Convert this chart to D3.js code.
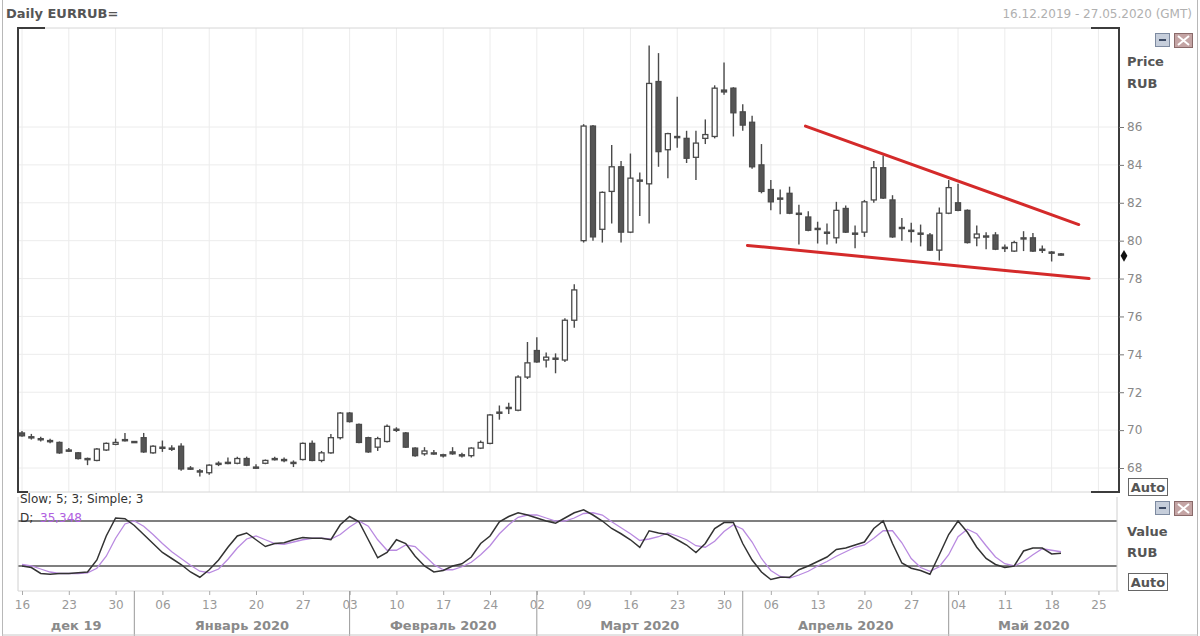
<!DOCTYPE html>
<html><head><meta charset="utf-8">
<script src="https://cdn.jsdelivr.net/npm/d3@7/dist/d3.min.js"></script>
<style>
html,body{margin:0;padding:0;background:#fff;}
svg{display:block;font-family:"DejaVu Sans",Verdana,sans-serif;}
</style></head>
<body><svg id="c" width="1200" height="636"></svg>
<script>
// ---- data ----
const openV = [69.85,69.65,69.55,69.45,69.35,68.95,68.80,68.50,68.40,68.95,69.25,69.45,69.40,69.60,68.80,69.10,69.05,69.15,68.00,67.85,67.75,68.20,68.30,68.25,68.50,68.05,68.25,68.50,68.45,68.30,68.45,69.30,68.40,68.80,69.60,70.90,70.30,69.60,69.10,69.40,70.05,69.85,69.05,68.75,68.80,68.70,68.85,68.70,68.65,69.05,69.30,70.90,71.15,71.05,72.80,74.20,73.70,73.80,73.70,75.80,80.00,86.05,80.60,82.60,83.90,80.45,83.20,83.00,88.40,84.80,85.45,85.40,84.40,85.40,85.50,87.95,88.05,86.80,86.25,84.00,82.70,82.25,82.50,81.45,81.25,80.65,80.45,80.15,81.70,80.40,80.45,82.15,83.85,82.15,80.70,80.55,80.40,80.30,79.50,81.45,82.00,81.60,80.15,80.25,80.30,79.65,79.45,80.15,80.15,79.55,79.40,79.30];
const highV = [69.95,69.80,69.65,69.55,69.40,69.05,68.85,68.55,69.05,69.35,69.55,69.85,69.42,69.85,69.20,69.45,69.20,69.30,68.10,67.95,68.20,68.35,68.55,68.60,68.60,68.20,68.45,68.60,68.55,68.40,69.35,69.45,68.90,69.80,70.95,70.95,70.35,69.65,69.65,70.30,70.15,69.90,69.10,69.10,68.95,68.75,69.10,68.80,69.10,69.45,70.85,71.30,71.45,72.90,74.65,74.90,74.10,74.05,75.90,77.70,86.15,86.10,82.60,85.05,84.20,84.60,83.60,90.30,89.90,85.70,87.60,85.80,85.80,86.40,88.20,89.40,88.10,87.20,86.60,85.10,83.20,82.70,82.85,81.90,81.55,81.00,80.90,82.05,81.85,80.80,82.15,84.20,84.50,82.40,81.20,80.95,80.85,80.40,81.75,83.20,83.00,81.65,80.80,80.45,80.45,79.80,80.00,80.50,80.40,79.75,79.45,79.35];
const lowV = [69.65,69.50,69.40,69.30,68.75,68.85,68.45,68.15,68.35,68.90,69.20,69.40,69.38,68.80,68.75,68.85,68.90,67.85,67.90,67.55,67.65,68.10,68.20,68.20,68.10,67.95,68.20,68.40,68.30,68.05,68.40,68.35,68.30,68.75,69.50,70.40,69.30,68.80,68.90,69.35,69.90,69.05,68.60,68.65,68.70,68.55,68.70,68.55,68.55,69.00,69.25,70.55,70.85,71.00,72.70,73.55,73.30,73.00,73.60,75.40,79.90,80.00,79.90,80.90,79.90,80.40,81.30,80.90,83.90,83.30,84.90,84.10,83.20,85.10,85.40,87.70,85.50,85.80,83.80,82.50,81.60,81.40,81.40,79.80,80.50,79.85,79.80,79.85,80.40,79.60,80.20,82.00,82.20,80.15,80.00,79.90,79.70,79.45,78.95,81.40,81.55,79.85,79.70,79.55,79.50,79.40,79.40,79.45,79.40,79.35,78.90,79.20];
const closeV = [69.70,69.60,69.50,69.40,68.80,68.90,68.50,68.48,69.00,69.30,69.35,69.50,69.40,68.85,69.15,69.10,69.05,67.95,67.95,67.80,68.15,68.25,68.30,68.50,68.15,68.05,68.40,68.50,68.40,68.30,69.30,68.40,68.80,69.60,70.90,70.45,69.35,68.85,69.55,70.20,70.05,69.10,68.65,68.90,68.80,68.70,68.75,68.70,69.05,69.35,70.80,70.95,71.20,72.80,73.55,73.60,73.85,73.80,75.80,77.40,86.05,80.20,82.55,83.90,80.45,83.30,83.20,88.30,84.70,85.65,85.50,84.35,85.15,85.60,88.05,87.85,86.75,86.10,83.90,82.60,82.05,82.20,81.45,81.40,80.55,80.60,80.40,81.60,80.45,80.35,82.05,83.85,82.25,80.20,80.65,80.50,80.35,79.50,81.45,82.80,81.60,79.90,80.35,80.25,79.55,79.65,79.90,80.15,79.45,79.50,79.38,79.25];
const stochK = [20,18,10,9,10,10,11,12,28,60,84,83,74,62,50,38,30,22,12,5,15,28,45,60,64,55,46,50,51,55,58,57,57,55,75,86,79,55,31,38,55,50,33,20,12,14,20,23,32,50,60,79,86,91,88,84,80,77,84,91,95,88,80,70,63,55,45,67,64,62,55,48,38,50,70,78,78,50,28,12,2,5,5,15,20,26,32,42,44,48,52,70,80,50,24,17,14,9,35,62,80,65,45,30,22,18,20,40,44,44,36,37];
const stochD = [22,20,16,12,10,10,10,11,17,33,57,76,80,73,62,50,39,30,21,13,11,16,29,44,56,60,55,50,49,52,55,57,57,56,62,72,80,73,55,41,41,48,46,34,22,15,15,19,25,35,47,63,75,85,88,88,84,80,80,84,90,91,88,79,71,63,54,56,59,64,60,55,47,45,53,66,75,69,52,30,14,6,4,8,13,20,26,33,39,45,48,57,67,67,51,30,18,13,19,35,59,69,63,47,32,23,20,26,35,43,41,39];
const priceTicks = [68,70,72,74,76,78,80,82,84,86];
const weekLabels = ["16","23","30","06","13","20","27","03","10","17","24","02","09","16","23","30","06","13","20","27","04","11","18","25"];
const monthLabels = ["дек 19","Январь 2020","Февраль 2020","Март 2020","Апрель 2020","Май 2020"];
const monthStartIdx = [0,12,35,55,77,99];
const upperTrend = [{i:83.7,v:86.05},{i:112.9,v:80.85}];
const lowerTrend = [{i:77.5,v:79.75},{i:114.0,v:78.0}];
const stochLevels = [80,20];
const lastPrice = 79.2;
const titleText = "Daily EURRUB=";
const rangeText = "16.12.2019 - 27.05.2020 (GMT)";
const stochLegend = "Slow; 5; 3; Simple; 3";
const stochValPrefix = "D;";
const stochValue = "35,348";

// ---- layout ----
const svg = d3.select("#c");
const L = 18, R = 1119, mainTop = 28, mainBot = 492, stTop = 497, stBot = 591;
const x = d3.scaleLinear().domain([0,111]).range([22,1061]);
const y = d3.scaleLinear().domain([68,86]).range([468,127]);
const ys = d3.scaleLinear().domain([20,80]).range([566,521]);
const candles = openV.map((o,i)=>({i,o,h:highV[i],l:lowV[i],c:closeV[i]}));
const bw = 5;

// outer frame
svg.append("line").attr("x1",2.5).attr("x2",2.5).attr("y1",0).attr("y2",636).attr("stroke","#b8b8b8");
svg.append("line").attr("x1",1197.5).attr("x2",1197.5).attr("y1",0).attr("y2",636).attr("stroke","#b8b8b8");

// title
svg.append("text").attr("x",6).attr("y",18).attr("font-size",13).attr("font-weight","bold").attr("fill","#555").text(titleText);
svg.append("text").attr("x",1192).attr("y",18).attr("text-anchor","end").attr("font-size",12).attr("fill","#b0b0b0").text(rangeText);

// clip
const defs = svg.append("defs");
defs.append("clipPath").attr("id","mainClip").append("rect").attr("x",L).attr("y",mainTop).attr("width",R-L).attr("height",mainBot-mainTop);
defs.append("clipPath").attr("id","stClip").append("rect").attr("x",L).attr("y",stTop).attr("width",R-L).attr("height",stBot-stTop);

// grid main
const weekIdx = weekLabels.map((d,k)=>k*5);
const gMain = svg.append("g").attr("clip-path","url(#mainClip)");
gMain.selectAll(".vg").data(weekIdx).join("line").attr("x1",d=>x(d)).attr("x2",d=>x(d)).attr("y1",mainTop).attr("y2",mainBot).attr("stroke","#ececec");
gMain.selectAll(".hg").data(priceTicks).join("line").attr("x1",L).attr("x2",R).attr("y1",d=>y(d)).attr("y2",d=>y(d)).attr("stroke","#ececec");

// candles
const cg = gMain.selectAll(".cd").data(candles).join("g");
cg.append("line").attr("x1",d=>x(d.i)).attr("x2",d=>x(d.i)).attr("y1",d=>y(d.h)).attr("y2",d=>y(d.l)).attr("stroke","#4a4a4a").attr("stroke-width",1.4);
cg.append("rect").attr("x",d=>x(d.i)-bw/2).attr("width",bw)
  .attr("y",d=>y(Math.max(d.o,d.c))).attr("height",d=>Math.max(1.2,Math.abs(y(d.o)-y(d.c))))
  .attr("fill",d=>d.c>=d.o?"#fff":"#555").attr("stroke","#4a4a4a").attr("stroke-width",1.3);

// trendlines
const tl = d3.line().x(d=>x(d.i)).y(d=>y(d.v));
[upperTrend,lowerTrend].forEach(t=>{
  gMain.append("path").attr("d",tl(t)).attr("fill","none").attr("stroke","#d42a2a").attr("stroke-width",3).attr("stroke-linecap","round");
});

// main frame
svg.append("line").attr("x1",L).attr("x2",R).attr("y1",mainTop).attr("y2",mainTop).attr("stroke","#d6d6d6");
svg.append("line").attr("x1",L).attr("x2",R).attr("y1",mainBot).attr("y2",mainBot).attr("stroke","#d6d6d6");
const dark = "#3c3c3c";
svg.append("path").attr("d",`M${L+27},${mainTop}H${L}V${mainBot}H${L+10}`).attr("fill","none").attr("stroke",dark).attr("stroke-width",2);
svg.append("path").attr("d",`M${R-28},${mainTop}H${R}V${mainBot}H${R-28}`).attr("fill","none").attr("stroke",dark).attr("stroke-width",2);

// right price axis
const ax = svg.append("g").attr("transform",`translate(${R},0)`)
  .call(d3.axisRight(y).tickValues(priceTicks).tickSize(5).tickPadding(3).tickFormat(d3.format("d")));
ax.select(".domain").remove();
ax.selectAll(".tick line").attr("stroke","#777");
ax.selectAll("text").attr("fill","#888").attr("font-size",12).attr("font-family","DejaVu Sans");
svg.append("path").attr("d",d3.symbol(d3.symbolDiamond,40)()).attr("transform",`translate(${R+5},${y(lastPrice)})`).attr("fill","#111");

// right labels
function lbl(t,yy){svg.append("text").attr("x",1127).attr("y",yy).attr("font-size",13).attr("font-weight","bold").attr("fill","#555").text(t);}
lbl("Price",66); lbl("RUB",88); lbl("Value",536); lbl("RUB",557);
function autoBox(yy){
  svg.append("rect").attr("x",1128.5).attr("y",yy+0.5).attr("width",39).attr("height",17).attr("fill","#fff").attr("stroke","#666");
  svg.append("text").attr("x",1148).attr("y",yy+14).attr("text-anchor","middle").attr("font-size",13).attr("font-weight","bold").attr("fill","#555").text("Auto");
}
autoBox(478); autoBox(573);
function buttons(yy){
  svg.append("rect").attr("x",1155.5).attr("y",yy+0.5).attr("width",14).attr("height",13).attr("fill","#c6cedb").attr("stroke","#7d8aa0");
  svg.append("rect").attr("x",1159).attr("y",yy+6).attr("width",7).attr("height",2).attr("fill","#3c4a64");
  svg.append("rect").attr("x",1174.5).attr("y",yy+0.5).attr("width",18).attr("height",14).attr("fill","#c4a4a4").attr("stroke","#8a6a6a");
  svg.append("path").attr("d",`M${1178},${yy+3}L${1189},${yy+12}M${1189},${yy+3}L${1178},${yy+12}`).attr("stroke","#fff").attr("stroke-width",2);
}
buttons(33); buttons(501);

// stochastic panel
const gSt = svg.append("g").attr("clip-path","url(#stClip)");
gSt.selectAll(".lv").data(stochLevels).join("line").attr("x1",L).attr("x2",R-2).attr("y1",d=>ys(d)).attr("y2",d=>ys(d)).attr("stroke","#555").attr("stroke-width",1.5);
const sl = d3.line().x((d,i)=>x(i)).y(d=>ys(d));
gSt.append("path").attr("d",sl(stochD)).attr("fill","none").attr("stroke","#b98ae0").attr("stroke-width",1.3);
gSt.append("path").attr("d",sl(stochK)).attr("fill","none").attr("stroke","#333").attr("stroke-width",1.5);
svg.append("line").attr("x1",L).attr("x2",L).attr("y1",stTop).attr("y2",stBot).attr("stroke","#d0d0d0");
svg.append("line").attr("x1",R-2).attr("x2",R-2).attr("y1",stTop).attr("y2",stBot).attr("stroke","#d0d0d0");

// stochastic legend
svg.append("text").attr("x",20).attr("y",503).attr("font-size",12).attr("fill","#333").text(stochLegend);
svg.append("text").attr("x",20).attr("y",522).attr("font-size",12).attr("fill","#333").text(stochValPrefix);
svg.append("text").attr("x",40).attr("y",522).attr("font-size",12).attr("fill","#b060e0").text(stochValue);

// date axis
svg.append("line").attr("x1",L).attr("x2",R).attr("y1",stBot).attr("y2",stBot).attr("stroke","#d6d6d6");
const dax = svg.append("g").attr("transform",`translate(0,${stBot})`)
  .call(d3.axisBottom(x).tickValues(weekIdx).tickSize(4).tickPadding(5).tickFormat((d,k)=>weekLabels[k]));
dax.select(".domain").remove();
dax.selectAll(".tick line").attr("stroke","#aaa");
dax.selectAll("text").attr("fill","#999").attr("font-size",12).attr("font-family","DejaVu Sans");

const sepX = monthStartIdx.map((d,k)=>k===0?L:x(d));
const segEnd = sepX.slice(1).concat([R]);
svg.selectAll(".msep").data(sepX.slice(1)).join("line").attr("x1",d=>d).attr("x2",d=>d).attr("y1",stBot).attr("y2",636).attr("stroke","#999");
svg.selectAll(".mlab").data(monthLabels).join("text")
  .attr("x",(d,k)=>(sepX[k]+segEnd[k])/2).attr("y",630).attr("text-anchor","middle")
  .attr("font-size",13).attr("font-weight","bold").attr("fill","#8a8a8a").text(d=>d);
svg.append("line").attr("x1",2).attr("x2",1198).attr("y1",635).attr("y2",635).attr("stroke","#c8c8c8");
</script></body></html>
